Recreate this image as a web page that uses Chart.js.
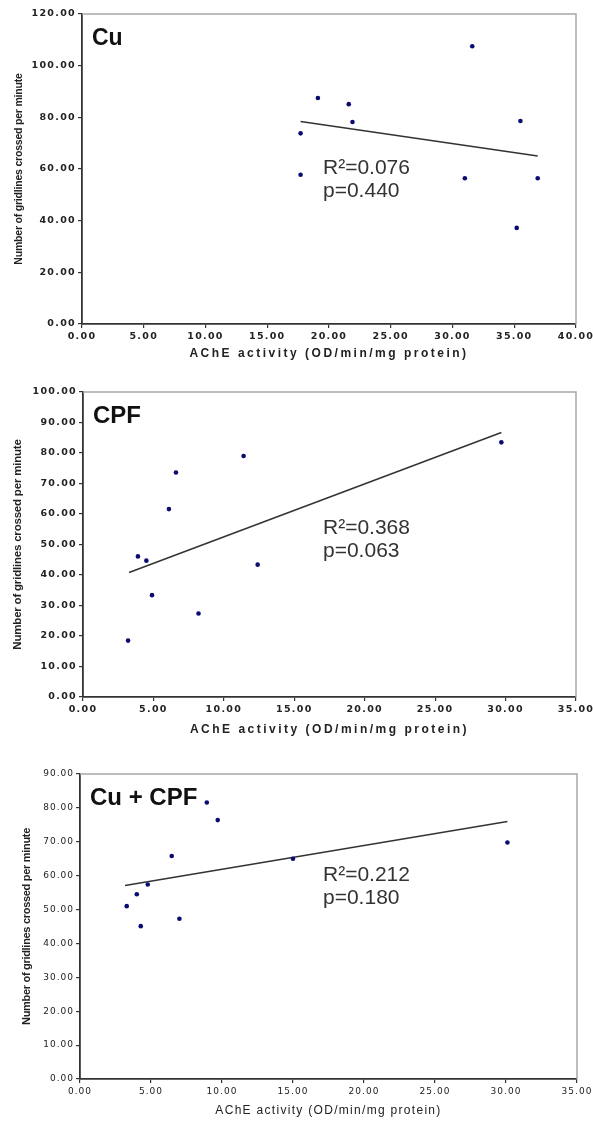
<!DOCTYPE html>
<html><head><meta charset="utf-8">
<script src="https://cdn.jsdelivr.net/npm/chart.js@4.4.0/dist/chart.umd.min.js"></script>
<style>
html,body{margin:0;padding:0;background:#fff;}
.wrap{position:absolute;left:0;width:593px;}
canvas{display:block;}
</style></head><body>
<div class="wrap" style="top:0;height:375px"><canvas id="c1" width="593" height="375"></canvas></div>
<div class="wrap" style="top:375px;height:377px"><canvas id="c2" width="593" height="377"></canvas></div>
<div class="wrap" style="top:752px;height:369px"><canvas id="c3" width="593" height="369"></canvas></div>
<script>
// ---- Data ----
const xAxisTitle = 'AChE activity (OD/min/mg protein)';
const yAxisTitle = 'Number of gridlines crossed per minute';

const cuTitle = 'Cu';
const cuX = [17.7, 19.1, 21.6, 21.9, 31.6, 35.5, 17.7, 31.0, 36.9, 35.2];
const cuY = [73.8, 87.5, 85.1, 78.2, 107.5, 78.6, 57.8, 56.4, 56.4, 37.2];
const cuFitX = [17.7, 36.9];
const cuFitY = [78.4, 65.0];
const cuStats = ['R\u00B2=0.076', 'p=0.440'];
const cuXTicks = [0, 5, 10, 15, 20, 25, 30, 35, 40];
const cuYTicks = [0, 20, 40, 60, 80, 100, 120];

const cpfTitle = 'CPF';
const cpfX = [3.2, 3.9, 4.5, 4.9, 6.1, 6.6, 8.2, 11.4, 12.4, 29.7];
const cpfY = [18.5, 46.1, 44.7, 33.4, 61.6, 73.6, 27.4, 79.0, 43.4, 83.5];
const cpfFitX = [3.27, 29.7];
const cpfFitY = [40.8, 86.7];
const cpfStats = ['R\u00B2=0.368', 'p=0.063'];
const cpfXTicks = [0, 5, 10, 15, 20, 25, 30, 35];
const cpfYTicks = [0, 10, 20, 30, 40, 50, 60, 70, 80, 90, 100];

const mixTitle = 'Cu + CPF';
const mixX = [8.93, 9.7, 6.46, 4.77, 4.0, 3.29, 4.28, 7.0, 15.0, 30.1];
const mixY = [81.6, 76.4, 65.8, 57.4, 54.5, 51.0, 45.1, 47.3, 65.0, 69.8];
const mixFitX = [3.17, 30.1];
const mixFitY = [57.1, 76.0];
const mixStats = ['R\u00B2=0.212', 'p=0.180'];
const mixXTicks = [0, 5, 10, 15, 20, 25, 30, 35];
const mixYTicks = [0, 10, 20, 30, 40, 50, 60, 70, 80, 90];

function pts(xs, ys) { return xs.map((x, i) => ({x: x, y: ys[i]})); }

function makeChart(id, cfg) {
  const canvas = document.getElementById(id);
  const H = canvas.height;
  const deco = {
    id: 'deco_' + id,
    beforeDraw(chart) {
      chart.ctx.letterSpacing = cfg.tickSpacing;
    },
    afterDraw(chart) {
      const ctx = chart.ctx;
      const a = chart.chartArea;
      ctx.save();
      ctx.letterSpacing = '0px';
      ctx.strokeStyle = '#a8a8a8';
      ctx.lineWidth = 1.5;
      ctx.beginPath();
      ctx.moveTo(a.left, a.top);
      ctx.lineTo(a.right, a.top);
      ctx.lineTo(a.right, a.bottom);
      ctx.stroke();
      ctx.fillStyle = '#111';
      ctx.font = 'bold ' + cfg.titleSize + 'px "Liberation Sans", Arial, sans-serif';
      ctx.textAlign = 'left';
      ctx.textBaseline = 'alphabetic';
      ctx.fillText(cfg.title, a.left + 10, a.top + 31);
      ctx.fillStyle = '#333';
      ctx.font = '21px "Liberation Sans", Arial, sans-serif';
      ctx.fillText(cfg.stats[0], 323, cfg.statsY);
      ctx.fillText(cfg.stats[1], 323, cfg.statsY + 23);
      ctx.fillStyle = '#222';
      ctx.letterSpacing = cfg.xTitleSpacing;
      ctx.font = cfg.xTitleWeight + ' 12px "Liberation Sans", Arial, sans-serif';
      ctx.textAlign = 'center';
      ctx.textBaseline = 'middle';
      ctx.fillText(xAxisTitle, (a.left + a.right) / 2, cfg.xTitleY);
      ctx.letterSpacing = cfg.yTitleSpacing;
      ctx.font = 'bold ' + cfg.yTitleSize + 'px "Liberation Sans", Arial, sans-serif';
      ctx.translate(cfg.yTitleX, (a.top + a.bottom) / 2);
      ctx.rotate(-Math.PI / 2);
      ctx.fillText(yAxisTitle, 0, 0);
      ctx.restore();
    }
  };
  const tickFont = {family: '"DejaVu Sans", sans-serif', size: cfg.tickSize, weight: cfg.tickWeight};
  return new Chart(canvas, {
    type: 'scatter',
    data: {
      datasets: [
        {
          data: pts(cfg.xs, cfg.ys),
          pointRadius: 2.3,
          pointBackgroundColor: '#0b0b70',
          pointBorderColor: '#0b0b70',
          pointBorderWidth: 0,
          showLine: false
        },
        {
          data: pts(cfg.fitX, cfg.fitY),
          showLine: true,
          pointRadius: 0,
          borderColor: '#333',
          borderWidth: 1.5,
          fill: false
        }
      ]
    },
    options: {
      responsive: false,
      animation: false,
      events: [],
      layout: {padding: {top: cfg.top, right: 593 - cfg.right, bottom: H - cfg.bottom - 40, left: 0}},
      plugins: {legend: {display: false}, tooltip: {enabled: false}, title: {display: false}},
      scales: {
        x: {
          type: 'linear',
          min: cfg.xTicks[0], max: cfg.xTicks[cfg.xTicks.length - 1],
          afterBuildTicks: s => { s.ticks = cfg.xTicks.map(v => ({value: v})); },
          afterFit: s => { s.height = 40; s.paddingLeft = 0; s.paddingRight = 0; },
          border: {display: true, color: '#333', width: 1.8},
          grid: {display: true, drawOnChartArea: false, drawTicks: true, tickLength: 4, color: '#333', lineWidth: 1.2},
          ticks: {
            autoSkip: false, maxRotation: 0, padding: 3,
            color: '#222', font: tickFont,
            callback: v => Number(v).toFixed(2)
          }
        },
        y: {
          type: 'linear',
          min: cfg.yTicks[0], max: cfg.yTicks[cfg.yTicks.length - 1],
          afterBuildTicks: s => { s.ticks = cfg.yTicks.map(v => ({value: v})); },
          afterFit: s => { s.width = cfg.left; s.paddingTop = 0; s.paddingBottom = 0; },
          border: {display: true, color: '#333', width: 1.8},
          grid: {display: true, drawOnChartArea: false, drawTicks: true, tickLength: 4, color: '#333', lineWidth: 1.2},
          ticks: {
            autoSkip: false, padding: 2,
            color: '#222', font: tickFont,
            callback: v => Number(v).toFixed(2)
          }
        }
      }
    },
    plugins: [deco]
  });
}

makeChart('c1', {
  title: cuTitle, titleSize: 23, xs: cuX, ys: cuY, fitX: cuFitX, fitY: cuFitY,
  stats: cuStats, statsY: 174, xTicks: cuXTicks, yTicks: cuYTicks,
  left: 82, right: 576, top: 14, bottom: 324,
  tickSize: 9.5, tickWeight: 'bold', tickSpacing: '1.3px',
  xTitleY: 354, xTitleWeight: 'bold', xTitleSpacing: '2.5px',
  yTitleX: 19, yTitleSize: 10.5, yTitleSpacing: '-0.2px'
});
makeChart('c2', {
  title: cpfTitle, titleSize: 24, xs: cpfX, ys: cpfY, fitX: cpfFitX, fitY: cpfFitY,
  stats: cpfStats, statsY: 159, xTicks: cpfXTicks, yTicks: cpfYTicks,
  left: 83, right: 576, top: 17, bottom: 322,
  tickSize: 9.5, tickWeight: 'bold', tickSpacing: '1.3px',
  xTitleY: 355, xTitleWeight: 'bold', xTitleSpacing: '2.5px',
  yTitleX: 18, yTitleSize: 11.5, yTitleSpacing: '-0.2px'
});
makeChart('c3', {
  title: mixTitle, titleSize: 24, xs: mixX, ys: mixY, fitX: mixFitX, fitY: mixFitY,
  stats: mixStats, statsY: 129, xTicks: mixXTicks, yTicks: mixYTicks,
  left: 80, right: 577, top: 22, bottom: 327,
  tickSize: 9, tickWeight: 'normal', tickSpacing: '1px',
  xTitleY: 359, xTitleWeight: 'normal', xTitleSpacing: '1.3px',
  yTitleX: 27, yTitleSize: 11, yTitleSpacing: '-0.3px'
});
</script>
</body></html>
